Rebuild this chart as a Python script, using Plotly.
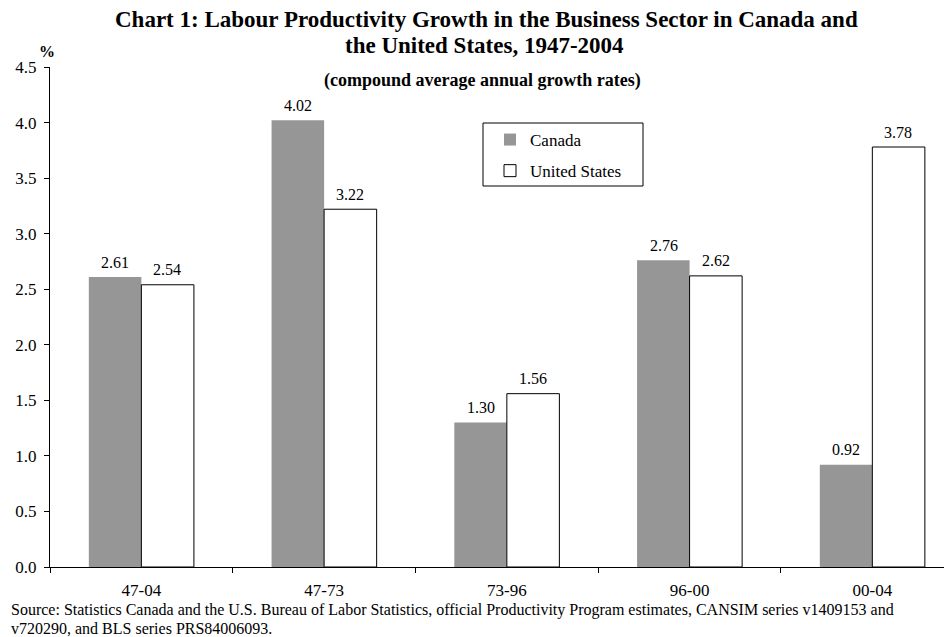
import plotly.graph_objects as go

categories = ["47-04", "47-73", "73-96", "96-00", "00-04"]
canada = [2.61, 4.02, 1.30, 2.76, 0.92]
united_states = [2.54, 3.22, 1.56, 2.62, 3.78]
y_ticks = [0.0, 0.5, 1.0, 1.5, 2.0, 2.5, 3.0, 3.5, 4.0, 4.5]

FONT = "Liberation Serif, Times New Roman, serif"

fig = go.Figure()
fig.add_trace(go.Bar(
    name="Canada", x=categories, y=canada, legendgroup="ca",
    marker=dict(color="#969696", line=dict(color="#969696", width=0)),
))
fig.add_trace(go.Bar(
    name="United States", x=categories, y=united_states, legendgroup="us",
    marker=dict(color="white", line=dict(color="black", width=1)),
))

# page has an 8px body margin: the figure starts at (8, 8)
OFF = 8
PLOT_L, PLOT_R, PLOT_T, PLOT_B = 50, 950, 67, 567
W = PLOT_R - PLOT_L
H = PLOT_B - PLOT_T
def py(pix):
    return (PLOT_B - pix) / H
def px(pix):
    return (pix - PLOT_L) / W

annots = []
# value labels above bars
for series, shift in ((canada, -26), (united_states, 26)):
    for c, v in zip(categories, series):
        annots.append(dict(text=f"{v:.2f}", x=c, y=v, xref="x", yref="y",
                           xshift=shift, yshift=15, yanchor="middle", showarrow=False,
                           font=dict(family=FONT, size=16, color="black")))

titles = [
    ("<b>Chart 1: Labour Productivity Growth in the Business Sector in Canada and</b>", 486, 20, 23),
    ("<b>the United States, 1947-2004</b>", 484, 46, 23),
    ("<b>(compound average annual growth rates)</b>", 482, 80, 18),
    ("<b>%</b>", 47, 52, 16),
]
for t, x, y, s in titles:
    annots.append(dict(text=t, xref="paper", yref="paper", x=px(x), y=py(y),
                       xanchor="center", yanchor="middle", showarrow=False,
                       font=dict(family=FONT, size=s, color="black")))

source_lines = [
    "Source: Statistics Canada and the U.S. Bureau of Labor Statistics, official Productivity Program estimates, CANSIM series v1409153 and",
    "v720290, and BLS series PRS84006093.",
]
for i, s in enumerate(source_lines):
    annots.append(dict(text=s, xref="paper", yref="paper", x=px(9), y=py(610 + 18 * i),
                       xanchor="left", yanchor="middle", showarrow=False,
                       font=dict(family=FONT, size=16, color="black")))

# legend box drawn as a shape
shapes = [dict(type="rect", xref="paper", yref="paper",
               x0=px(483), x1=px(643), y0=py(186), y1=py(123),
               line=dict(color="black", width=1), fillcolor="white", layer="below")]

fig.update_layout(
    width=952 - OFF, height=637 - OFF,
    margin=dict(l=PLOT_L - OFF, r=(952 - OFF) - (PLOT_R - OFF), t=PLOT_T - OFF,
                b=(637 - OFF) - (PLOT_B - OFF)),
    paper_bgcolor="white", plot_bgcolor="white",
    barmode="group", bargap=0.425, bargroupgap=0,
    font=dict(family=FONT, size=17, color="black"),
    annotations=annots,
    shapes=shapes,
    showlegend=True,
    legend=dict(x=px(490), y=py(122), xanchor="left", yanchor="top",
                borderwidth=0, bgcolor="rgba(0,0,0,0)",
                font=dict(family=FONT, size=17, color="black"),
                tracegroupgap=6, itemwidth=30),
)
fig.update_xaxes(type="category", range=[-0.5, 4.425], showline=True, linecolor="black",
                 linewidth=1, ticks="outside", tickson="boundaries", ticklen=5,
                 tickcolor="black", ticklabelstandoff=8,
                 tickfont=dict(family=FONT, size=17), showgrid=False)
fig.update_yaxes(range=[0, 4.5], tickvals=y_ticks, tickformat=".1f", showline=True,
                 linecolor="black", linewidth=1, ticks="outside", ticklen=5,
                 tickcolor="black", showgrid=False, zeroline=False, ticklabelstandoff=4,
                 tickfont=dict(family=FONT, size=17))

fig.write_html("out.html")
